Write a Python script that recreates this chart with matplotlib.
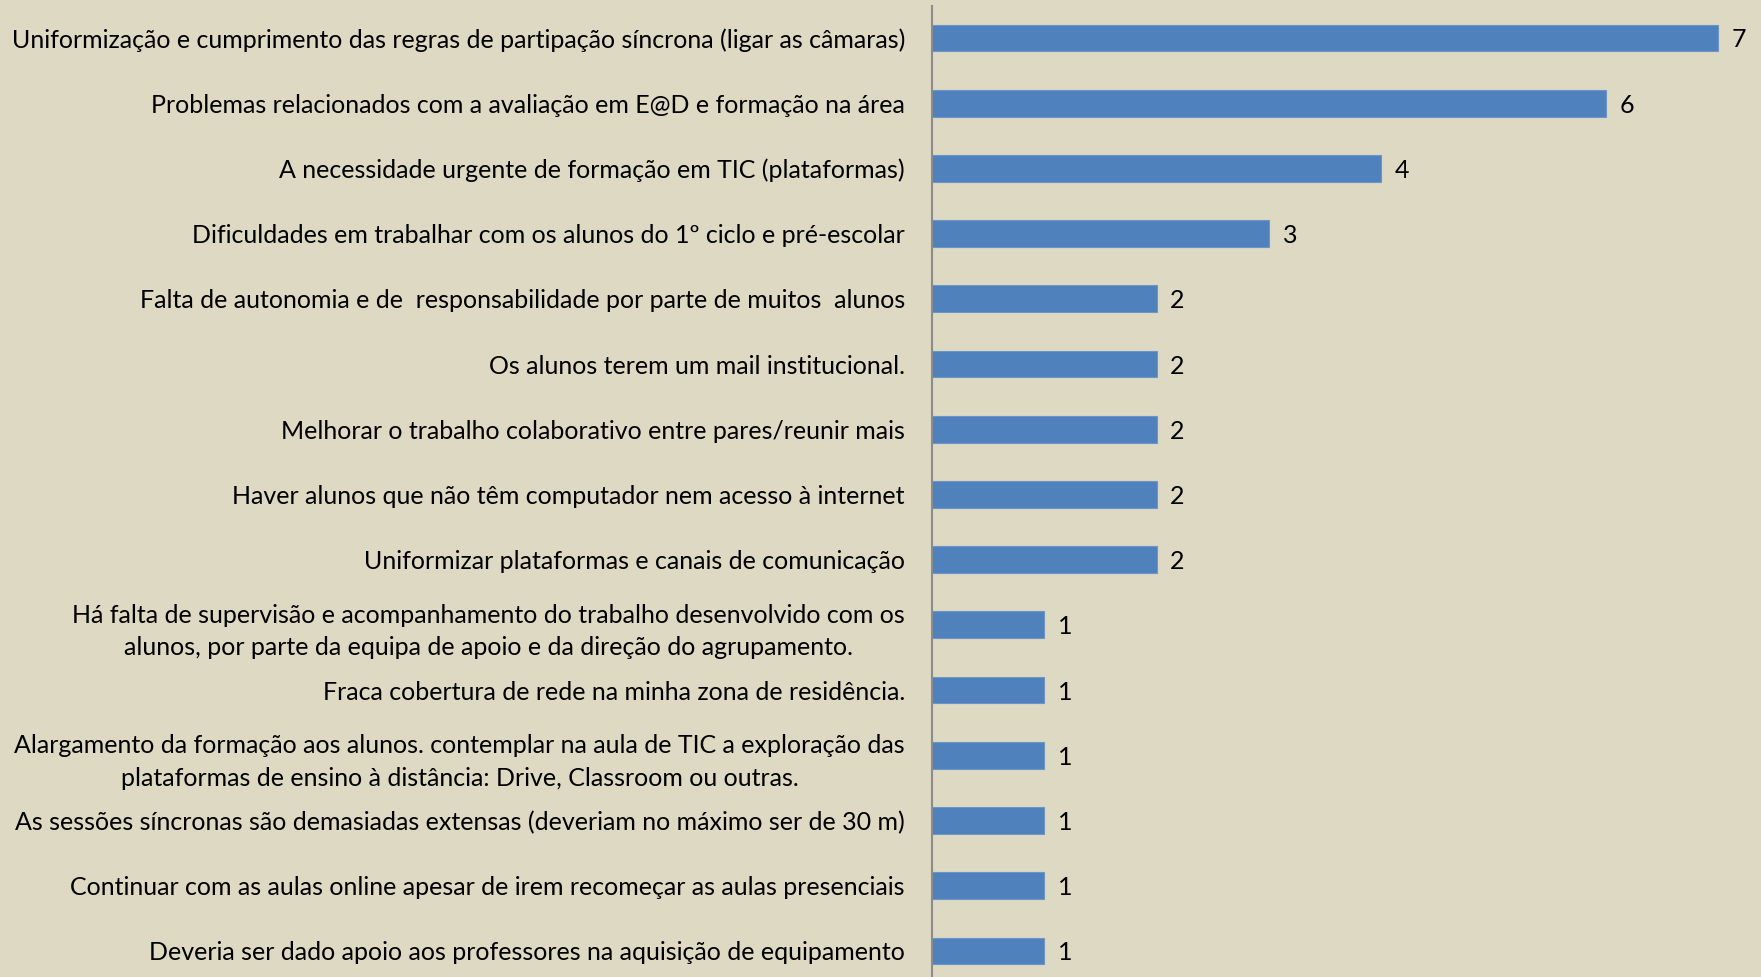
import matplotlib
matplotlib.use("Agg")
import matplotlib.pyplot as plt

BG, BAR, AXC = "#DDD9C3", "#4F81BD", "#8C8C8C"
plt.rcParams.update({"font.family": ["Lato", "DejaVu Sans"], "font.size": 18})

categorias = [
    "Uniformização e cumprimento das regras de partipação síncrona (ligar as câmaras)",
    "Problemas relacionados com a avaliação em E@D e formação na área",
    "A necessidade urgente de formação em TIC (plataformas)",
    "Dificuldades em trabalhar com os alunos do 1º ciclo e pré-escolar",
    "Falta de autonomia e de  responsabilidade por parte de muitos  alunos",
    "Os alunos terem um mail institucional.",
    "Melhorar o trabalho colaborativo entre pares/reunir mais",
    "Haver alunos que não têm computador nem acesso à internet",
    "Uniformizar plataformas e canais de comunicação",
    "Há falta de supervisão e acompanhamento do trabalho desenvolvido com os\nalunos, por parte da equipa de apoio e da direção do agrupamento.",
    "Fraca cobertura de rede na minha zona de residência.",
    "Alargamento da formação aos alunos. contemplar na aula de TIC a exploração das\nplataformas de ensino à distância: Drive, Classroom ou outras.",
    "As sessões síncronas são demasiadas extensas (deveriam no máximo ser de 30 m)",
    "Continuar com as aulas online apesar de irem recomeçar as aulas presenciais",
    "Deveria ser dado apoio aos professores na aquisição de equipamento",
]
valores = [7, 6, 4, 3, 2, 2, 2, 2, 2, 1, 1, 1, 1, 1, 1]

W, H = 1761, 977
fig = plt.figure(figsize=(W / 100, H / 100), dpi=100, facecolor=BG)
ax = fig.add_axes([932 / W, 0, 1 - 932 / W, (H - 6) / H], facecolor=BG)

pos = list(range(len(valores)))
ax.barh(pos, valores, height=0.41, color=BAR, edgecolor="#6F95C8", linewidth=0.8)
for p, v in zip(pos, valores):
    ax.text(v + 0.12, p, str(v), va="center_baseline", ha="left", fontsize=18, color="black")

ax.set_xlim(0, 7.38)
ax.set_ylim(14.4, -0.49)
ax.set_yticks(pos)
ax.set_yticklabels(categorias)
for t in ax.get_yticklabels():
    t.set_multialignment("center")
    t.set_linespacing(1.5)
ax.tick_params(axis="y", length=0, pad=19.5)
ax.set_xticks([])
for s in ["top", "right", "bottom"]:
    ax.spines[s].set_visible(False)
ax.spines["left"].set_color(AXC)
ax.spines["left"].set_linewidth(1.5)

fig.savefig("out.png", dpi=100, facecolor=BG)
